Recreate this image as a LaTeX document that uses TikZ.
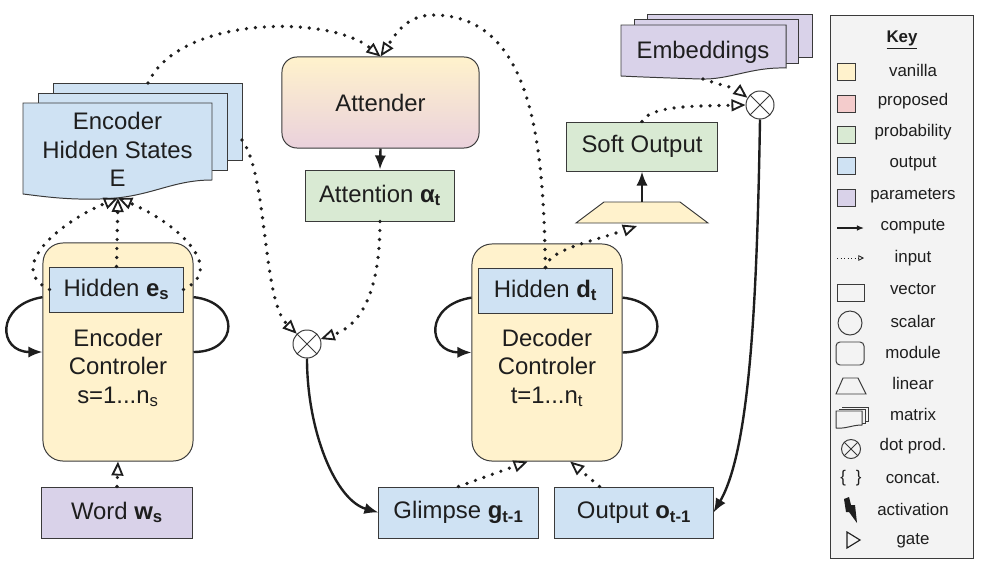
\documentclass[tikz,border=0pt]{standalone}
\usepackage{fontspec}
\setmainfont{Liberation Sans}
\usetikzlibrary{arrows.meta}
\definecolor{vanilla}{HTML}{FFF2CC}
\definecolor{proposed}{HTML}{F4CCCC}
\definecolor{prob}{HTML}{D9EAD3}
\definecolor{outblue}{HTML}{CFE2F3}
\definecolor{param}{HTML}{D9D2E9}
\definecolor{attpink}{HTML}{EAD1DC}
\definecolor{edge}{HTML}{3A3A3A}
\definecolor{keybg}{HTML}{F3F3F3}
\definecolor{ink}{HTML}{1E1E1E}
\newcommand{\bigtxt}{\fontsize{17}{20.3}\selectfont}
\newcommand{\keytxt}{\fontsize{12}{14}\selectfont}
\begin{document}
\begin{tikzpicture}[x=0.025cm,y=-0.025cm,
  vec/.style={draw=edge, line width=0.7pt, inner sep=0pt, font=\bigtxt, text=ink},
  module/.style={vec, rounded corners=0.5cm},
  txt/.style={inner sep=0pt, font=\bigtxt, text=ink, align=center},
  sheet/.style={draw=edge, line width=0.7pt},
  compute/.style={line width=1.7pt, ink, -{Latex[length=10pt,width=8pt]}},
  loopline/.style={line width=1.7pt, ink},
  input/.style={line width=2.6pt, ink, dash pattern=on 0pt off 6.4pt, line cap=round,
     -{Triangle[open,length=10pt,width=8.5pt,line width=1.3pt]}},
  dotprod/.style={circle, draw=edge, line width=0.7pt, fill=white, inner sep=0pt,
     path picture={\draw[edge, line width=0.7pt] (path picture bounding box.north west) -- (path picture bounding box.south east)
        (path picture bounding box.north east) -- (path picture bounding box.south west);}},
  keytext/.style={inner sep=0pt, font=\keytxt, text=ink},
  swatch/.style={draw=edge, line width=0.7pt, minimum width=0.45cm, minimum height=0.425cm, inner sep=0pt}
]
\useasboundingbox (0,0) rectangle (1000,566);

% ---------- Encoder hidden states (stack) ----------
\draw[sheet, fill=outblue] (53,83) rectangle (242,160);
\draw[sheet, fill=outblue] (38,93) rectangle (227,170);
\draw[sheet, fill=outblue] (23,103) -- (212,103) -- (212,180)
   .. controls (170,180) and (150,198) .. (100,199)
   .. controls (65,200) and (40,196) .. (23,194) -- cycle;
\node[txt] (encdoc) at (117.5,149.5) {Encoder\\Hidden States\\E};
\coordinate (encdocBot) at (118,198);
\coordinate (encdocTop) at (148,83);
\coordinate (encdocRight) at (242,140);

% ---------- Embeddings (stack) ----------
\draw[sheet, fill=param] (647,14) rectangle (812,57);
\draw[sheet, fill=param] (634,19) rectangle (798,63);
\draw[sheet, fill=param] (621,25) -- (786,25) -- (786,68)
   .. controls (750,67) and (730,80) .. (700,79)
   .. controls (670,78) and (640,77) .. (621,76) -- cycle;
\node[txt] (emb) at (703,52) {Embeddings};
\coordinate (embBot) at (703,79);

% ---------- main nodes ----------
\node[module, top color=vanilla, bottom color=attpink, minimum width=4.925cm, minimum height=2.275cm, rounded corners=0.375cm] (attender) at (380.5,102.5) {Attender};
\node[vec, fill=prob, minimum width=3.7cm, minimum height=1.275cm] (attn) at (380,195.5) {Attention \textbf{α\textsubscript{t}}};

\node[module, fill=vanilla, minimum width=3.75cm, minimum height=5.45cm] (encctrl) at (118,352) {};
\node[vec, fill=outblue, minimum width=3.325cm, minimum height=1.125cm] (hide) at (116.5,289.5) {Hidden \textbf{e\textsubscript{s}}};
\node[txt] (enctext) at (118,368) {Encoder\\Controler\\s=1...n\textsubscript{s}};
\node[vec, fill=param, minimum width=3.75cm, minimum height=1.275cm] (word) at (117,512.5) {Word \textbf{w\textsubscript{s}}};

\node[module, fill=vanilla, minimum width=3.75cm, minimum height=5.425cm] (decctrl) at (547,352.5) {};
\node[vec, fill=outblue, minimum width=3.325cm, minimum height=1.125cm] (hidd) at (545.5,290.5) {Hidden \textbf{d\textsubscript{t}}};
\node[txt] (dectext) at (547,368) {Decoder\\Controler\\t=1...n\textsubscript{t}};
\node[vec, fill=outblue, minimum width=3.975cm, minimum height=1.275cm] (glimpse) at (458.5,512.5) {Glimpse \textbf{g\textsubscript{t-1}}};
\node[vec, fill=outblue, minimum width=3.95cm, minimum height=1.275cm] (output) at (634,512.5) {Output \textbf{o\textsubscript{t-1}}};

\node[vec, fill=prob, minimum width=3.75cm, minimum height=1.225cm] (soft) at (642,146.5) {Soft Output};
\draw[sheet, fill=vanilla] (576,223) -- (604,202) -- (680,202) -- (708,223) -- cycle;
\coordinate (trapTop) at (642,202);
\coordinate (trapIn) at (637,226);

\node[dotprod, minimum size=0.7cm] (dot1) at (307,344) {};
\node[dotprod, minimum size=0.7cm] (dot2) at (760,105) {};

% ---------- self loops ----------
\draw[compute] (encctrl.144) .. controls (-5,305) and (-2,352) .. (encctrl.west);
\draw[loopline] (encctrl.36) .. controls (240,302) and (240,352) .. (encctrl.east);
\draw[compute] (decctrl.144) .. controls (424,305) and (427,352) .. (decctrl.west);
\draw[loopline] (decctrl.36) .. controls (669,302) and (669,352) .. (decctrl.east);

% ---------- compute connectors ----------
\draw[compute] (attender.south) -- (attn.north);
\draw[compute] (trapTop) -- (soft.south);
\draw[compute] (dot1.south) .. controls (307,430) and (335,500) .. (glimpse.west);
\draw[compute] (dot2.south) .. controls (757,300) and (750,450) .. (output.east);

% ---------- input connectors ----------
\draw[input] (word.north) -- (encctrl.south);
\draw[input] (hide.north) -- (encdocBot);
\draw[input] (hide.west) .. controls (5,268) and (60,222) .. (encdocBot);
\draw[input] (hide.east) .. controls (228,268) and (175,222) .. (encdocBot);
\draw[input] (encdocTop) .. controls (180,15) and (330,15) .. (attender.north);
\draw[input] (hidd.north) .. controls (543,160) and (538,15) .. (433,15)
   .. controls (406,15) and (395,35) .. (attender.north);
\draw[input] (hidd.north) .. controls (548,250) and (590,242) .. (trapIn);
\draw[input] (encdocRight) .. controls (268,175) and (262,300) .. (dot1.north west);
\draw[input] (attn.south) .. controls (380,290) and (362,325) .. (dot1.20);
\draw[input] (embBot) .. controls (720,85) and (735,88) .. (dot2.150);
\draw[input] (soft.north) .. controls (650,105) and (700,106) .. (dot2.west);
\path (output.north west) ++(45,0) coordinate (outTop);
\draw[input] (glimpse.north) -- (decctrl.-100);
\draw[input] (outTop) -- (decctrl.-78);

% ---------- key ----------
\node[draw=edge, line width=0.7pt, fill=keybg, minimum width=3.55cm, minimum height=13.55cm, inner sep=0pt] (key) at (902,287) {};
\node[keytext, font=\keytxt\bfseries] (ktitle) at (902,40) {\underline{Key}};
\node[swatch, fill=vanilla] (s1) at (846,72) {};
\node[keytext] (k1) at (913,70) {vanilla};
\node[swatch, fill=proposed] (s2) at (846,104) {};
\node[keytext] (k2) at (913,101) {proposed};
\node[swatch, fill=prob] (s3) at (846,135) {};
\node[keytext] (k3) at (913,132) {probability};
\node[swatch, fill=outblue] (s4) at (846,166) {};
\node[keytext] (k4) at (913,164) {output};
\node[swatch, fill=param] (s5) at (846,198) {};
\node[keytext] (k5) at (913,196) {parameters};
\coordinate (kc1) at (837,228); \coordinate (kc2) at (864,228);
\draw[line width=0.9pt, ink, -{Latex[length=5pt,width=4pt]}] (kc1) -- (kc2);
\node[keytext] (k6) at (913,227) {compute};
\coordinate (ki1) at (837,258); \coordinate (ki2) at (864,258);
\draw[line width=0.6pt, ink, dash pattern=on 1pt off 1.5pt, -{Triangle[open,length=4pt,width=4pt,line width=0.6pt]}] (ki1) -- (ki2);
\node[keytext] (k7) at (913,258) {input};
\draw[sheet] (837,284) rectangle (864,301);
\node[keytext] (k8) at (913,289) {vector};
\node[circle, draw=edge, line width=0.7pt, minimum size=0.6cm, inner sep=0pt] (kscal) at (850,323) {};
\node[keytext] (k9) at (913,321) {scalar};
\draw[sheet, rounded corners=0.1cm] (836,342) rectangle (864,365);
\node[keytext] (k10) at (913,352) {module};
\draw[sheet] (836,394) -- (843,378) -- (858,378) -- (866,394) -- cycle;
\node[keytext] (k11) at (913,383) {linear};
\draw[sheet] (842,407) -- (868,407) -- (868,421) -- (865,421);
\draw[sheet] (839,409) -- (865,409) -- (865,423) -- (862,423);
\draw[sheet, fill=keybg] (836,411) -- (862,411) -- (862,425) .. controls (852,425) and (846,429) .. (836,428) -- cycle;
\node[keytext] (k12) at (913,414) {matrix};
\node[dotprod, fill=keybg, minimum size=0.475cm] (kdot) at (851,449) {};
\node[keytext] (k13) at (913,446) {dot prod.};
\node[keytext] (kcat) at (851,478) {\{\hspace{7pt}\}};
\node[keytext] (k14) at (913,478) {concat.};
\fill[ink] (844,499) -- (849,497) -- (851,505) -- (855,505) -- (857,523) -- (849,512) -- (846,512) -- cycle;
\node[keytext] (k15) at (913,509) {activation};
\draw[ink, line width=0.8pt] (847,532) -- (860,540) -- (847,548) -- cycle;
\node[keytext] (k16) at (913,541) {gate};
\end{tikzpicture}
\end{document}
